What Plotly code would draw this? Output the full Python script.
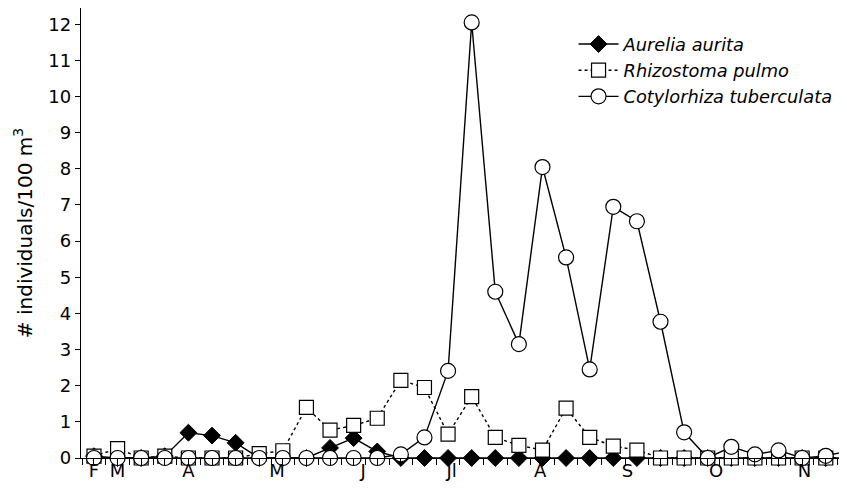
import plotly.graph_objects as go

# sample index (roughly 8-day intervals, Feb -> Nov)
sample_idx = list(range(33))

aurelia = [0.05, 0.0, 0.0, 0.05, 0.7, 0.62, 0.42, 0.0, 0.0, 0.0, 0.28, 0.55, 0.18,
           0.0, 0.0, 0.0, 0.0, 0.0, 0.0, 0.0, 0.0, 0.0, 0.0, 0.0, 0.0, 0.0,
           0.0, 0.0, 0.0, 0.0, 0.0, 0.0, 0.0]
rhizostoma = [0.05, 0.26, 0.0, 0.05, 0.0, 0.0, 0.0, 0.12, 0.2, 1.4, 0.77, 0.9, 1.1,
              2.15, 1.95, 0.66, 1.7, 0.57, 0.35, 0.22, 1.38, 0.57, 0.33, 0.22, 0.0, 0.0,
              0.0, 0.0, 0.0, 0.0, 0.0, 0.0, 0.0]
cotylorhiza = [0.0, 0.0, 0.0, 0.0, 0.0, 0.0, 0.0, 0.0, 0.0, 0.0, 0.0, 0.0, 0.0,
               0.1, 0.57, 2.41, 12.05, 4.6, 3.15, 8.05, 5.55, 2.45, 6.95, 6.55, 3.77, 0.71,
               0.0, 0.31, 0.1, 0.21, 0.0, 0.06, 0.2]

month_labels = ["F", "M", "A", "M", "J", "Jl", "A", "S", "O", "N"]
month_pos = [0, 1, 4.0, 7.75, 11.4, 15.15, 18.9, 22.6, 26.35, 30.1]

minor_ticks = [i * 0.5 for i in range(-1, 66)]

FONT = "DejaVu Sans, Liberation Sans, Arial, sans-serif"

fig = go.Figure()
fig.add_trace(go.Scatter(
    x=sample_idx, y=aurelia, name="Aurelia aurita", mode="lines+markers",
    line=dict(color="black", width=1.4),
    marker=dict(symbol="diamond", size=13, color="black", line=dict(color="black", width=1)),
    cliponaxis=False))
fig.add_trace(go.Scatter(
    x=sample_idx, y=rhizostoma, name="Rhizostoma pulmo", mode="lines+markers",
    line=dict(color="black", width=1.4, dash="dot"),
    marker=dict(symbol="square", size=14, color="white", line=dict(color="black", width=1.2)),
    cliponaxis=False))
fig.add_trace(go.Scatter(
    x=sample_idx, y=cotylorhiza, name="Cotylorhiza tuberculata", mode="lines+markers",
    line=dict(color="black", width=1.4),
    marker=dict(symbol="circle", size=15, color="white", line=dict(color="black", width=1.2)),
    cliponaxis=False))

fig.update_layout(
    width=839, height=488,
    margin=dict(l=73, r=0, t=0, b=38),
    plot_bgcolor="white", paper_bgcolor="white",
    font=dict(family=FONT, size=18, color="black"),
    legend=dict(x=0.643, y=0.96, xanchor="left", yanchor="top",
                font=dict(size=17.8, style="italic"), bgcolor="rgba(0,0,0,0)",
                tracegroupgap=0, itemwidth=40),
    showlegend=True,
)
fig.update_xaxes(
    range=[-0.55, 31.9], showgrid=False, zeroline=False, automargin=False,
    showline=True, linecolor="black", linewidth=1.3,
    tickmode="array", tickvals=month_pos, ticktext=month_labels,
    ticks="", tickfont=dict(size=18), ticklabelstandoff=-4,
    minor=dict(tickmode="array", tickvals=minor_ticks, ticks="outside",
               ticklen=6, tickcolor="black", tickwidth=1),
)
fig.update_yaxes(
    range=[0, 12.45], showgrid=False, zeroline=False, automargin=False,
    showline=True, linecolor="black", linewidth=1.3,
    tickmode="array", tickvals=list(range(13)), ticktext=[str(v) for v in range(13)],
    ticks="outside", ticklen=5, tickcolor="black", tickwidth=1,
    tickfont=dict(size=18),
    title=dict(text="# individuals/100 m<sup>3</sup>", font=dict(size=20), standoff=10),
)

fig.write_html("out.html")
